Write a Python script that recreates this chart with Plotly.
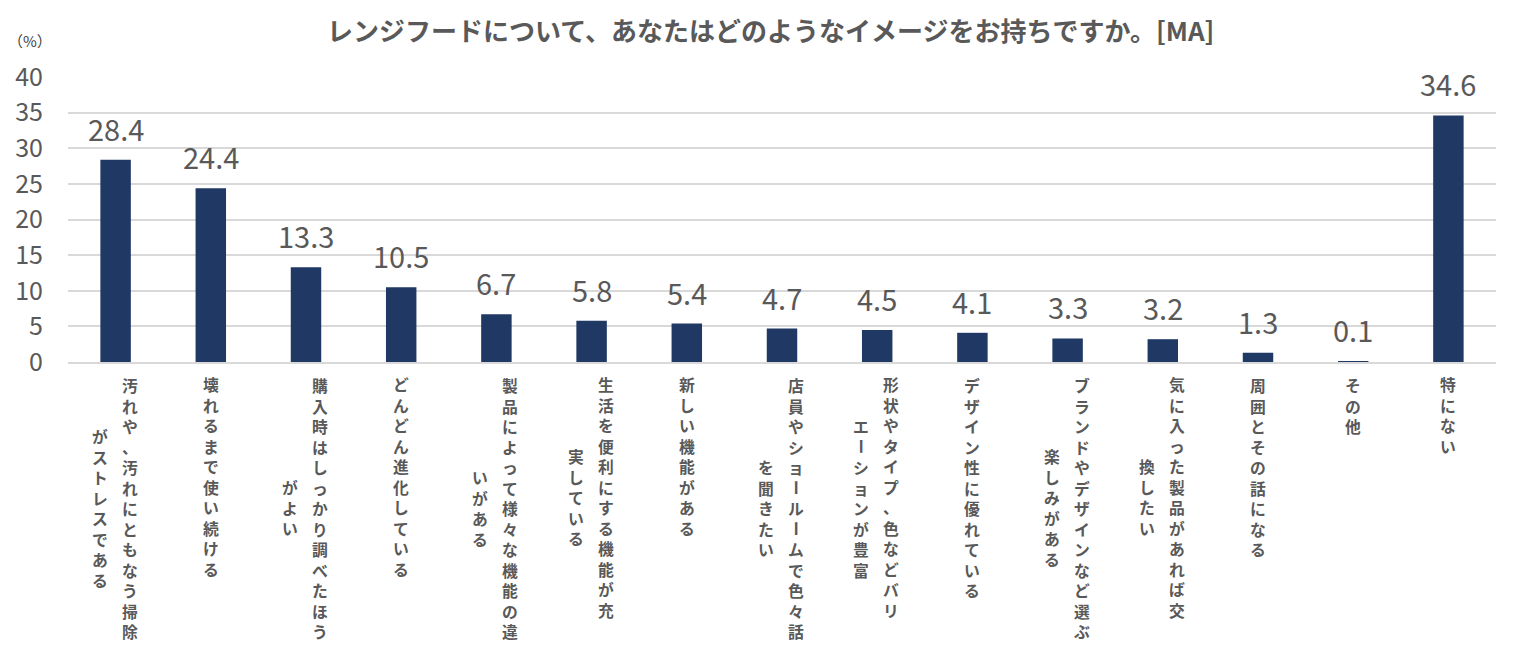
import plotly.graph_objects as go

categories = [
    "汚れや、汚れにともなう掃除<br>がストレスである",
    "壊れるまで使い続ける",
    "購入時はしっかり調べたほう<br>がよい",
    "どんどん進化している",
    "製品によって様々な機能の違<br>いがある",
    "生活を便利にする機能が充<br>実している",
    "新しい機能がある",
    "店員やショールームで色々話<br>を聞きたい",
    "形状やタイプ、色などバリ<br>エーションが豊富",
    "デザイン性に優れている",
    "ブランドやデザインなど選ぶ<br>楽しみがある",
    "気に入った製品があれば交<br>換したい",
    "周囲とその話になる",
    "その他",
    "特にない",
]
values = [28.4, 24.4, 13.3, 10.5, 6.7, 5.8, 5.4, 4.7, 4.5, 4.1, 3.3, 3.2, 1.3, 0.1, 34.6]
y_ticks = [0, 5, 10, 15, 20, 25, 30, 35, 40]

title_text = "レンジフードについて、あなたはどのようなイメージをお持ちですか。[MA]"
unit_text = "（%）"

FONT = "Noto Sans CJK JP"
GRAY = "#595959"
BAR = "#1F3864"

W, H = 1540, 658
ML, MR, MT, MB = 68, 44, 77, 296
plot_w = W - ML - MR
plot_h = H - MT - MB

x_idx = list(range(len(categories)))

fig = go.Figure()
fig.add_trace(go.Bar(
    x=x_idx, y=values,
    marker=dict(color=BAR, line=dict(width=0)),
    width=0.32,
    hoverinfo="skip",
))

annotations = []
# data labels
for i, v in enumerate(values):
    annotations.append(dict(
        x=i, y=v, xref="x", yref="y", text=f"{v:.1f}", showarrow=False,
        yanchor="bottom", xanchor="center", yshift=9,
        font=dict(family=FONT, size=29, color=GRAY),
    ))

# vertical (tategaki) category labels: each column is one stacked text,
# the long-vowel mark is drawn turned upright as in vertical writing
LF = 15.8
STEP = 1.3 * LF
FIRST = 23  # px from axis to centre of first character cell
lab_font = dict(family=FONT, size=LF, color=GRAY, weight="bold")
for i, c in enumerate(categories):
    lines = c.split("<br>")
    maxlen = max(len(l) for l in lines)
    offs = [0] if len(lines) == 1 else [14, -16]
    for j, line in enumerate(lines):
        start = (maxlen - len(line)) / 2 * STEP
        segs = []
        cur = ""
        cur0 = 0
        for k, ch in enumerate(line):
            if ch == "ー":
                if cur:
                    segs.append((cur0, cur))
                segs.append((k, ch))
                cur = ""
                cur0 = k + 1
            else:
                if not cur:
                    cur0 = k
                cur += ch
        if cur:
            segs.append((cur0, cur))
        for k0, seg in segs:
            n = len(seg)
            centre = FIRST + start + (k0 + (n - 1) / 2) * STEP
            if seg == "ー":
                annotations.append(dict(
                    x=i, y=0, xref="x", yref="paper", text=seg, showarrow=False,
                    textangle=90, xanchor="center", yanchor="middle",
                    xshift=offs[j], yshift=-centre, font=lab_font,
                ))
            else:
                annotations.append(dict(
                    x=i, y=0, xref="x", yref="paper", text="<br>".join(seg),
                    showarrow=False, xanchor="center", yanchor="middle",
                    align="center", xshift=offs[j], yshift=-centre, font=lab_font,
                ))

annotations.append(dict(
    x=(770 - ML) / plot_w, y=(H - MB - 30) / plot_h, xref="paper", yref="paper",
    text=title_text, showarrow=False, xanchor="center", yanchor="middle",
    font=dict(family=FONT, size=26, color=GRAY, weight="bold"),
))
annotations.append(dict(
    x=(30 - ML) / plot_w, y=(H - MB - 40) / plot_h, xref="paper", yref="paper",
    text=unit_text, showarrow=False, xanchor="center", yanchor="middle",
    font=dict(family=FONT, size=15, color="#404040"),
))

fig.update_layout(
    width=W, height=H,
    margin=dict(l=ML, r=MR, t=MT, b=MB),
    paper_bgcolor="white", plot_bgcolor="white",
    showlegend=False,
    xaxis=dict(
        range=[-0.5, len(categories) - 0.5],
        showticklabels=False, showgrid=False, zeroline=False,
        showline=True, linecolor="#d9d9d9", linewidth=1.5,
        fixedrange=True,
    ),
    yaxis=dict(
        range=[0, 40], tickvals=y_ticks, ticktext=[str(t) for t in y_ticks],
        showgrid=True, gridcolor="#d9d9d9", gridwidth=1.5,
        zeroline=False, showline=False,
        tickfont=dict(family=FONT, size=25, color=GRAY),
        ticklabelstandoff=24,
        fixedrange=True,
    ),
    annotations=annotations,
)

fig.write_html("out.html", config={"displayModeBar": False})
